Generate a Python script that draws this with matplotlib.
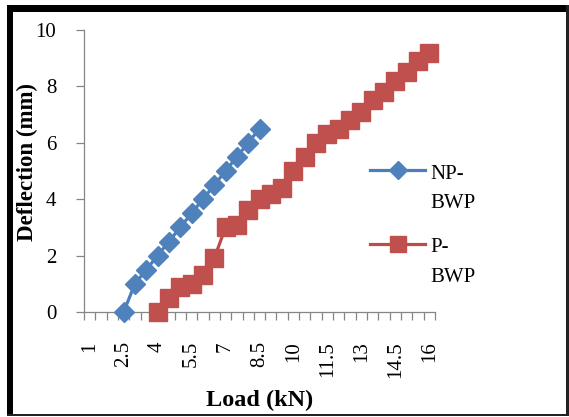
import matplotlib
matplotlib.use("Agg")
import matplotlib.pyplot as plt
from matplotlib.lines import Line2D
from matplotlib.patches import Rectangle

# ---- data ----
categories = [1, 1.5, 2, 2.5, 3, 3.5, 4, 4.5, 5, 5.5, 6, 6.5, 7, 7.5, 8, 8.5,
              9, 9.5, 10, 10.5, 11, 11.5, 12, 12.5, 13, 13.5, 14, 14.5, 15, 15.5, 16]
tick_labels = ["1", "2.5", "4", "5.5", "7", "8.5", "10", "11.5", "13", "14.5", "16"]

np_load = [2.5, 3, 3.5, 4, 4.5, 5, 5.5, 6, 6.5, 7, 7.5, 8, 8.5]
np_defl = [0, 1.0, 1.5, 2.0, 2.5, 3.0, 3.5, 4.0, 4.5, 5.0, 5.5, 6.0, 6.5]

p_load = [4, 4.5, 5, 5.5, 6, 6.5, 7, 7.5, 8, 8.5, 9, 9.5, 10, 10.5, 11, 11.5,
          12, 12.5, 13, 13.5, 14, 14.5, 15, 15.5, 16]
p_defl = [0, 0.5, 0.9, 1.0, 1.3, 1.9, 3.0, 3.1, 3.6, 4.0, 4.2, 4.4, 5.0, 5.5,
          6.0, 6.3, 6.5, 6.8, 7.1, 7.5, 7.8, 8.2, 8.5, 8.9, 9.2]

series_names = ["NP-\nBWP", "P-\nBWP"]

# ---- style ----
W, H = 569, 417
FONT = "Liberation Serif"
BLUE_L, BLUE_M = "#4A7EBB", "#4F81BD"
RED_L, RED_M = "#BE4B48", "#C0504D"
AX_COL = "#868686"
D_MS, S_MS = 10.5, 13

fig = plt.figure(figsize=(W / 100, H / 100), dpi=100)
fig.patch.set_facecolor("white")

def fx(px):
    return px / W

def fy(py):
    return 1 - py / H

ax = fig.add_axes([fx(84), fy(312), fx(435) - fx(84), fy(30) - fy(312)])

np_idx = [categories.index(v) for v in np_load]
p_idx = [categories.index(v) for v in p_load]

ax.plot(np_idx, np_defl, color=BLUE_L, lw=2.3, marker="D", ms=D_MS,
        mfc=BLUE_M, mec=BLUE_M, clip_on=False, zorder=3)
ax.plot(p_idx, p_defl, color=RED_L, lw=2.3, marker="s", ms=S_MS,
        mfc=RED_M, mec=RED_M, clip_on=False, zorder=3)

ax.set_xlim(-0.5, len(categories) - 0.5)
ax.set_ylim(0, 10)

for s in ["top", "right"]:
    ax.spines[s].set_visible(False)
for s in ["left", "bottom"]:
    ax.spines[s].set_color(AX_COL)
    ax.spines[s].set_linewidth(0.9)

# y ticks
ax.set_yticks([0, 2, 4, 6, 8, 10])
ax.tick_params(axis="y", direction="out", length=6, width=0.9, color=AX_COL,
               pad=14, labelsize=15)
# x ticks: labels every 3rd category, tick marks at category boundaries
major_pos = [categories.index(float(t)) for t in tick_labels]
ax.set_xticks(major_pos)
ax.set_xticklabels(tick_labels, rotation=90)
ax.set_xticks([i - 0.5 for i in range(len(categories) + 1)], minor=True)
ax.tick_params(axis="x", which="major", length=0, pad=21, labelsize=15)
ax.tick_params(axis="x", which="minor", direction="out", length=5.5, width=0.9,
               color=AX_COL)
for lab in ax.get_xticklabels() + ax.get_yticklabels():
    lab.set_fontfamily(FONT)

# axis titles
fig.text(fx(27), fy(162), "Deflection (mm)", rotation=90, ha="center",
         va="center", fontsize=16.5, fontweight="bold", family=FONT)
fig.text(fx(260), fy(400), "Load (kN)", ha="center", va="center",
         fontsize=17.5, fontweight="bold", family=FONT)

# legend (handle aligned to first text line, as in the reference)
leg = [(170, BLUE_L, BLUE_M, "D", D_MS, series_names[0]),
       (244, RED_L, RED_M, "s", S_MS, series_names[1])]
for y, lc, mc, mk, ms, name in leg:
    fig.add_artist(Line2D([fx(370), fx(425)], [fy(y), fy(y)], color=lc, lw=2.3))
    fig.add_artist(Line2D([fx(397.5)], [fy(y)], marker=mk, ms=ms * 0.9, mfc=mc,
                          mec=mc, color=lc, lw=0))
    l1, l2 = name.split("\n")
    fig.text(fx(430), fy(y + 4), l1, ha="left", va="center", fontsize=15,
             family=FONT)
    fig.text(fx(430), fy(y + 33), l2, ha="left", va="center", fontsize=15,
             family=FONT)

# outer frame: thick top/left, thin bottom/right
frame = [
    (7, 5, 6, 411, "black"),
    (7, 5, 561, 7, "black"),
    (566, 5, 2.5, 411, "#222222"),
    (7, 413.5, 561.5, 2.5, "#222222"),
]
for x0, y0, w, h, c in frame:
    fig.add_artist(Rectangle((fx(x0), fy(y0 + h)), w / W, h / H,
                             transform=fig.transFigure, facecolor=c,
                             edgecolor="none", zorder=10))

fig.savefig("out.png", dpi=100)
